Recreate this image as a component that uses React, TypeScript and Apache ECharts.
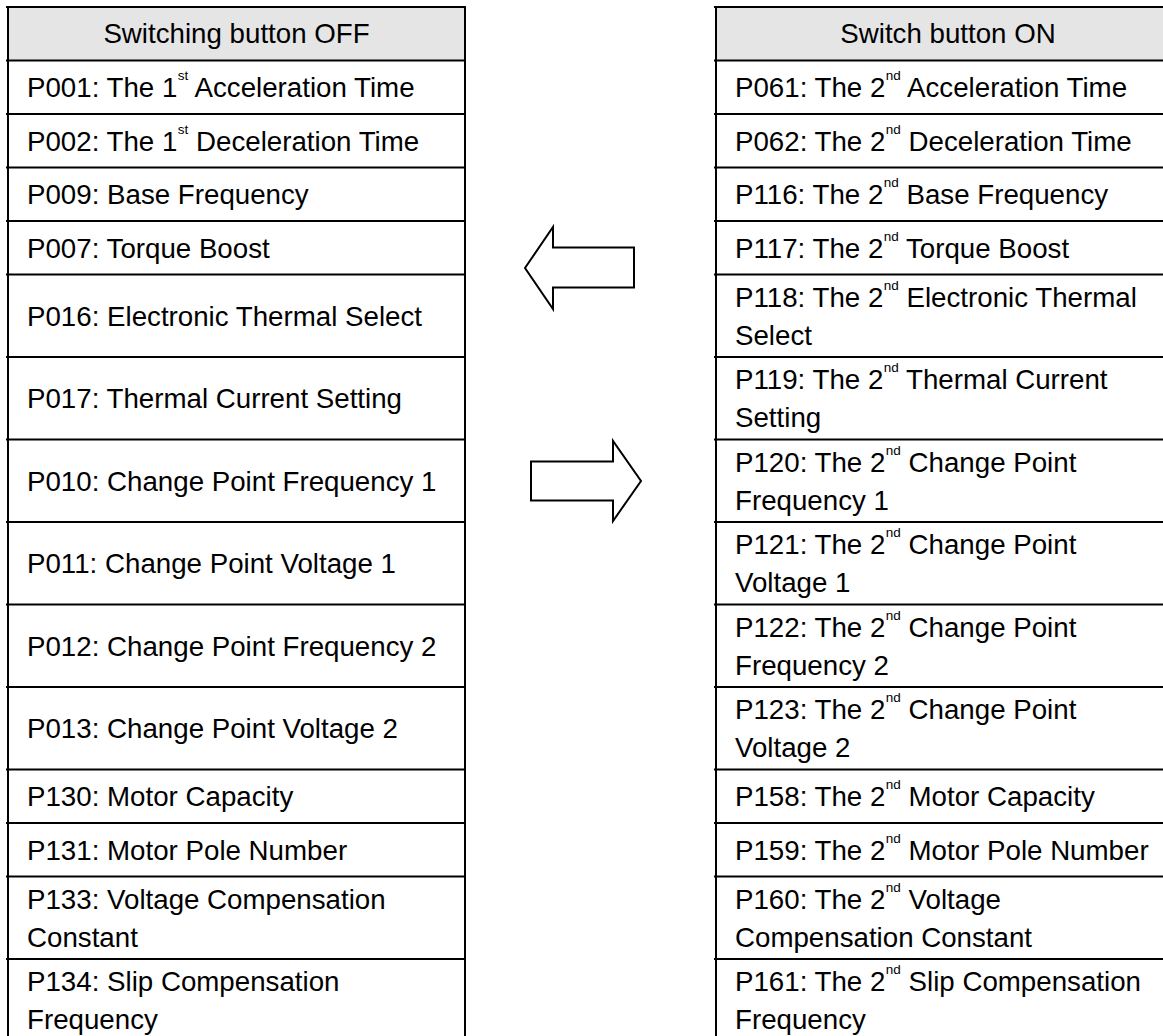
import React, { useEffect, useRef } from 'react';
import * as echarts from 'echarts';

const leftHeader = 'Switching button OFF';
const rightHeader = 'Switch button ON';

const leftRows = [
  'P001: The 1^st Acceleration Time',
  'P002: The 1^st Deceleration Time',
  'P009: Base Frequency',
  'P007: Torque Boost',
  'P016: Electronic Thermal Select',
  'P017: Thermal Current Setting',
  'P010: Change Point Frequency 1',
  'P011: Change Point Voltage 1',
  'P012: Change Point Frequency 2',
  'P013: Change Point Voltage 2',
  'P130: Motor Capacity',
  'P131: Motor Pole Number',
  'P133: Voltage Compensation\nConstant',
  'P134: Slip Compensation\nFrequency',
];

const rightRows = [
  'P061: The 2^nd Acceleration Time',
  'P062: The 2^nd Deceleration Time',
  'P116: The 2^nd Base Frequency',
  'P117: The 2^nd Torque Boost',
  'P118: The 2^nd Electronic Thermal\nSelect',
  'P119: The 2^nd Thermal Current\nSetting',
  'P120: The 2^nd Change Point\nFrequency 1',
  'P121: The 2^nd Change Point\nVoltage 1',
  'P122: The 2^nd Change Point\nFrequency 2',
  'P123: The 2^nd Change Point\nVoltage 2',
  'P158: The 2^nd Motor Capacity',
  'P159: The 2^nd Motor Pole Number',
  'P160: The 2^nd Voltage\nCompensation Constant',
  'P161: The 2^nd Slip Compensation\nFrequency',
];

const W = 1163;
const H = 1036;
const FONT = '"Liberation Sans", Arial, Helvetica, sans-serif';
const FS = 27.7;
const LH = 38;
const TOP = 7;
const SINGLE = 53.5;
const DOUBLE = 82.5;
const TABLES = [
  { x0: 8, x1: 465, header: leftHeader, rows: leftRows },
  { x0: 716, x1: 1180, header: rightHeader, rows: rightRows },
];
const GRAY = '#e5e5e5';

function toRich(s: string) {
  return s.replace(/\^(\w+)/g, '{sup|$1}');
}

function textStyle(text: string, align: string) {
  return {
    text: toRich(text),
    fontSize: FS,
    fontFamily: FONT,
    fill: '#000',
    align,
    verticalAlign: 'middle',
    lineHeight: LH,
    rich: {
      sup: {
        fontSize: 13.5,
        fontFamily: FONT,
        fill: '#000',
        lineHeight: 27,
        verticalAlign: 'top',
      },
    },
  };
}

function buildGraphic() {
  const els: any[] = [];
  const bounds: number[] = [TOP, TOP + SINGLE];
  leftRows.forEach((l, i) => {
    const lines = Math.max(l.split('\n').length, rightRows[i].split('\n').length);
    bounds.push(bounds[bounds.length - 1] + (lines > 1 ? DOUBLE : SINGLE));
  });
  const stroke = { stroke: '#000', lineWidth: 2 };
  TABLES.forEach((t) => {
    els.push({
      type: 'rect',
      shape: { x: t.x0, y: bounds[0], width: t.x1 - t.x0, height: bounds[1] - bounds[0] },
      style: { fill: GRAY },
    });
  });
  TABLES.forEach((t) => {
    bounds.forEach((y) => {
      els.push({ type: 'line', shape: { x1: t.x0 - 2, y1: y, x2: t.x1, y2: y }, style: stroke });
    });
    els.push({ type: 'line', shape: { x1: t.x0, y1: bounds[0] - 1, x2: t.x0, y2: H + 20 }, style: stroke });
    els.push({ type: 'line', shape: { x1: t.x1, y1: bounds[0] - 1, x2: t.x1, y2: H + 20 }, style: stroke });
    els.push({
      type: 'text',
      x: (t.x0 + t.x1) / 2,
      y: (bounds[0] + bounds[1]) / 2,
      style: textStyle(t.header, 'center'),
    });
    t.rows.forEach((r, i) => {
      els.push({
        type: 'text',
        x: t.x0 + 19,
        y: (bounds[i + 1] + bounds[i + 2]) / 2 + 0.5,
        style: textStyle(r, 'left'),
      });
    });
  });
  const arrowStyle = { fill: '#fff', stroke: '#000', lineWidth: 2, lineJoin: 'miter' };
  els.push({
    type: 'polygon',
    shape: {
      points: [
        [525, 268], [553, 227], [553, 247.5], [634, 247.5], [634, 287.5], [553, 287.5], [553, 309],
      ],
    },
    style: arrowStyle,
  });
  els.push({
    type: 'polygon',
    shape: {
      points: [
        [531, 461.5], [613, 461.5], [613, 441], [641, 481], [613, 521], [613, 500.5], [531, 500.5],
      ],
    },
    style: arrowStyle,
  });
  return els;
}

export default function App() {
  const ref = useRef<HTMLDivElement>(null);
  useEffect(() => {
    if (!ref.current) return;
    const chart = echarts.init(ref.current, undefined, { renderer: 'svg' });
    chart.setOption({
      animation: false,
      backgroundColor: '#fff',
      graphic: { elements: buildGraphic() },
    });
    return () => chart.dispose();
  }, []);
  return (
    <div
      ref={ref}
      style={{ position: 'fixed', left: 0, top: 0, width: W, height: H, background: '#fff' }}
    />
  );
}
